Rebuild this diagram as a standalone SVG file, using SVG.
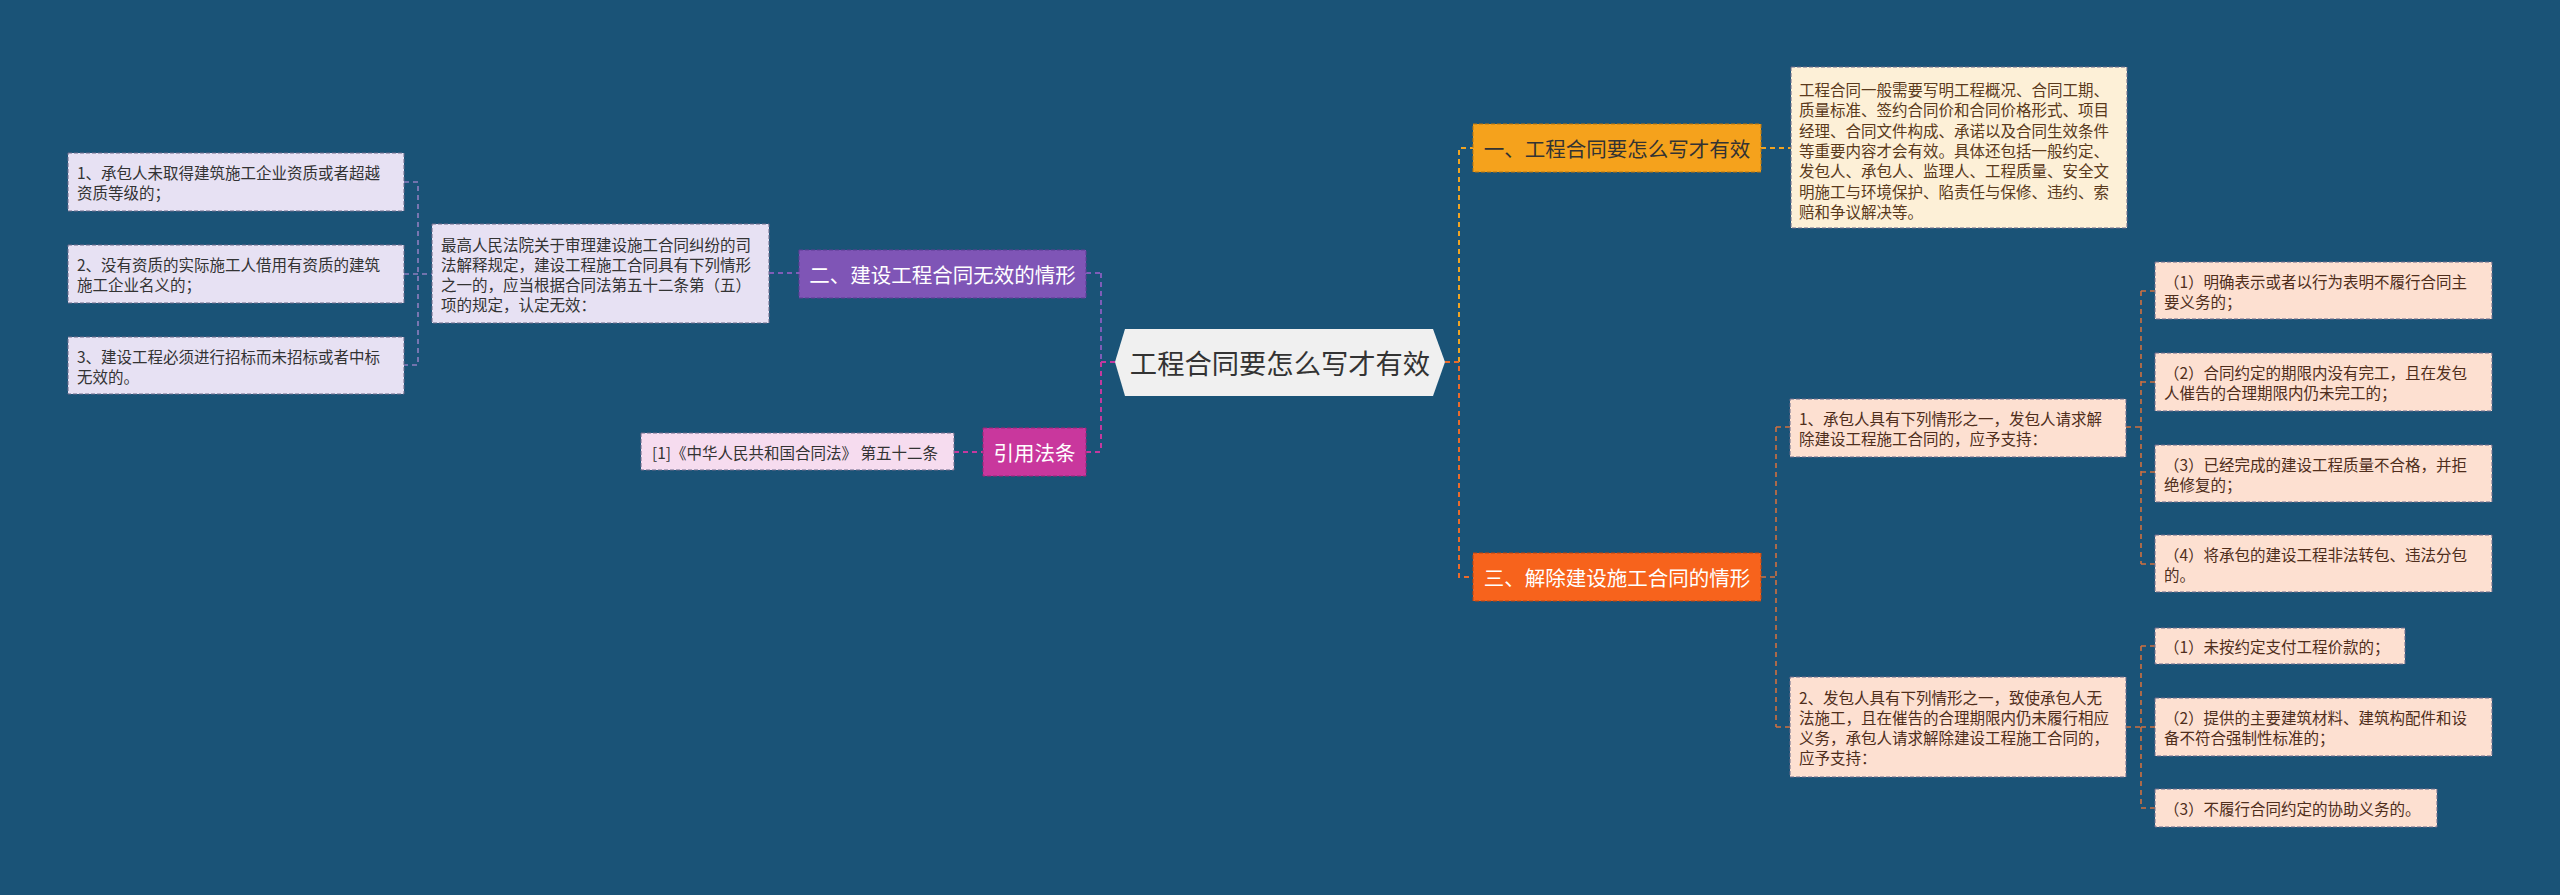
<svg xmlns="http://www.w3.org/2000/svg" width="2560" height="895" viewBox="0 0 2560 895">
<style>
text{font-family:"Noto Sans CJK SC","Liberation Sans",sans-serif;dominant-baseline:central}
.s{font-size:15.5px}
.b{font-size:20.5px}
.c{fill:none;stroke-width:2;stroke-dasharray:5 4}
.c2{fill:none;stroke-width:1.6;stroke-dasharray:5 4}
.bd{stroke-width:1;stroke-dasharray:4 2}
</style>
<rect width="2560" height="895" fill="#1a5377"/>
<g id="connectors">
<path class="c" stroke="#7f5db8" d="M1101 273V362M1086 273H1101M769 273H799"/>
<path class="c" stroke="#c4399e" d="M1101 362V452M1086 452H1101M1101 362H1115M954 452H983"/>
<path class="c2" stroke="#8f7fc0" d="M404 182H418V365H404M404 274H432"/>
<path class="c" stroke="#efa322" d="M1459 362V148H1473M1761 148H1791"/>
<path class="c" stroke="#ea6a2a" d="M1445 362H1459V577H1473"/>
<path class="c2" stroke="#d0703f" d="M1761 577H1776M1776 427V727M1776 427H1790M1776 727H1790M2126 427H2141M2141 291V564M2141 291H2155M2141 382H2155M2141 472H2155M2141 564H2155M2126 727H2141M2141 646V808M2141 646H2155M2141 727H2155M2141 808H2155"/>
</g>
<g id="center">
<polygon points="1115,362 1125,329 1433,329 1445,362 1433,396 1125,396" fill="#f0f0f0"/>
<text x="1280" y="362" text-anchor="middle" font-size="27.3" fill="#333">工程合同要怎么写才有效</text>
</g>
<g id="n2">
<rect x="799" y="250" width="287" height="48" fill="#7f55b6" stroke="#5e3d94" class="bd"/>
<text class="b" x="942.5" y="274" text-anchor="middle" fill="#fff">二、建设工程合同无效的情形</text>
</g>
<g id="n2a">
<rect x="432" y="224" width="337" height="99" fill="#e7e1f3" stroke="#6b6b8a" class="bd"/>
<text class="s" fill="#333"><tspan x="441" y="243.5">最高人民法院关于审理建设施工合同纠纷的司</tspan><tspan x="441" y="263.5">法解释规定，建设工程施工合同具有下列情形</tspan><tspan x="441" y="283.5">之一的，应当根据合同法第五十二条第（五）</tspan><tspan x="441" y="303.5">项的规定，认定无效：</tspan></text>
</g>
<g id="n2a1">
<rect x="68" y="153" width="336" height="58" fill="#e7e1f3" stroke="#6b6b8a" class="bd"/>
<text class="s" fill="#333"><tspan x="77" y="172">1、承包人未取得建筑施工企业资质或者超越</tspan><tspan x="77" y="192">资质等级的；</tspan></text>
</g>
<g id="n2a2">
<rect x="68" y="245" width="336" height="58" fill="#e7e1f3" stroke="#6b6b8a" class="bd"/>
<text class="s" fill="#333"><tspan x="77" y="264">2、没有资质的实际施工人借用有资质的建筑</tspan><tspan x="77" y="284">施工企业名义的；</tspan></text>
</g>
<g id="n2a3">
<rect x="68" y="337" width="336" height="57" fill="#e7e1f3" stroke="#6b6b8a" class="bd"/>
<text class="s" fill="#333"><tspan x="77" y="356">3、建设工程必须进行招标而未招标或者中标</tspan><tspan x="77" y="376">无效的。</tspan></text>
</g>
<g id="ref">
<rect x="983" y="428" width="103" height="48" fill="#c9379d" stroke="#9c2578" class="bd"/>
<text class="b" x="1034.5" y="452" text-anchor="middle" fill="#fff">引用法条</text>
</g>
<g id="ref1">
<rect x="641" y="433" width="313" height="37" fill="#f6dcef" stroke="#6b6b8a" class="bd"/>
<text class="s" x="652" y="451.5" fill="#333">[1]《中华人民共和国合同法》 第五十二条</text>
</g>
<g id="n1">
<rect x="1473" y="124" width="288" height="48" fill="#f5a21c" stroke="#b9770e" class="bd"/>
<text class="b" x="1617" y="148" text-anchor="middle" fill="#333">一、工程合同要怎么写才有效</text>
</g>
<g id="n1a">
<rect x="1791" y="67" width="336" height="161" fill="#fdf0d7" stroke="#6b6b8a" class="bd"/>
<text class="s" fill="#5a3a1c"><tspan x="1799" y="89">工程合同一般需要写明工程概况、合同工期、</tspan><tspan x="1799" y="109.3">质量标准、签约合同价和合同价格形式、项目</tspan><tspan x="1799" y="129.6">经理、合同文件构成、承诺以及合同生效条件</tspan><tspan x="1799" y="149.9">等重要内容才会有效。具体还包括一般约定、</tspan><tspan x="1799" y="170.2">发包人、承包人、监理人、工程质量、安全文</tspan><tspan x="1799" y="190.5">明施工与环境保护、陷责任与保修、违约、索</tspan><tspan x="1799" y="210.8">赔和争议解决等。</tspan></text>
</g>
<g id="n3">
<rect x="1473" y="553" width="288" height="48" fill="#f7631c" stroke="#b84510" class="bd"/>
<text class="b" x="1617" y="577" text-anchor="middle" fill="#fff">三、解除建设施工合同的情形</text>
</g>
<g id="n3a">
<rect x="1790" y="399" width="336" height="58" fill="#fde0d1" stroke="#6b6b8a" class="bd"/>
<text class="s" fill="#4f2e1c"><tspan x="1799" y="418">1、承包人具有下列情形之一，发包人请求解</tspan><tspan x="1799" y="438">除建设工程施工合同的，应予支持：</tspan></text>
</g>
<g id="n3b">
<rect x="1790" y="677" width="336" height="100" fill="#fde0d1" stroke="#6b6b8a" class="bd"/>
<text class="s" fill="#4f2e1c"><tspan x="1799" y="697">2、发包人具有下列情形之一，致使承包人无</tspan><tspan x="1799" y="717">法施工，且在催告的合理期限内仍未履行相应</tspan><tspan x="1799" y="737">义务，承包人请求解除建设工程施工合同的，</tspan><tspan x="1799" y="757">应予支持：</tspan></text>
</g>
<g id="n3a1">
<rect x="2155" y="262" width="337" height="57" fill="#fde0d1" stroke="#6b6b8a" class="bd"/>
<text class="s" fill="#4f2e1c"><tspan x="2164" y="281">（1）明确表示或者以行为表明不履行合同主</tspan><tspan x="2164" y="301">要义务的；</tspan></text>
</g>
<g id="n3a2">
<rect x="2155" y="353" width="337" height="58" fill="#fde0d1" stroke="#6b6b8a" class="bd"/>
<text class="s" fill="#4f2e1c"><tspan x="2164" y="372">（2）合同约定的期限内没有完工，且在发包</tspan><tspan x="2164" y="392">人催告的合理期限内仍未完工的；</tspan></text>
</g>
<g id="n3a3">
<rect x="2155" y="445" width="337" height="57" fill="#fde0d1" stroke="#6b6b8a" class="bd"/>
<text class="s" fill="#4f2e1c"><tspan x="2164" y="464">（3）已经完成的建设工程质量不合格，并拒</tspan><tspan x="2164" y="484">绝修复的；</tspan></text>
</g>
<g id="n3a4">
<rect x="2155" y="535" width="337" height="57" fill="#fde0d1" stroke="#6b6b8a" class="bd"/>
<text class="s" fill="#4f2e1c"><tspan x="2164" y="554">（4）将承包的建设工程非法转包、违法分包</tspan><tspan x="2164" y="574">的。</tspan></text>
</g>
<g id="n3b1">
<rect x="2155" y="628" width="250" height="36" fill="#fde0d1" stroke="#6b6b8a" class="bd"/>
<text class="s" x="2164" y="646" fill="#4f2e1c">（1）未按约定支付工程价款的；</text>
</g>
<g id="n3b2">
<rect x="2155" y="698" width="337" height="58" fill="#fde0d1" stroke="#6b6b8a" class="bd"/>
<text class="s" fill="#4f2e1c"><tspan x="2164" y="717">（2）提供的主要建筑材料、建筑构配件和设</tspan><tspan x="2164" y="737">备不符合强制性标准的；</tspan></text>
</g>
<g id="n3b3">
<rect x="2155" y="789" width="282" height="38" fill="#fde0d1" stroke="#6b6b8a" class="bd"/>
<text class="s" x="2164" y="808" fill="#4f2e1c">（3）不履行合同约定的协助义务的。</text>
</g>
</svg>
